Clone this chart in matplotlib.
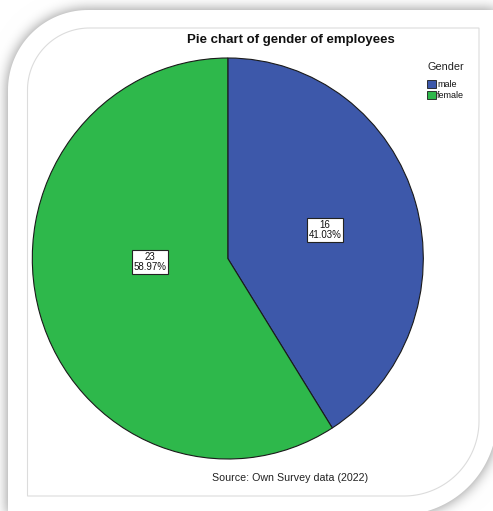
import numpy as np
import matplotlib
matplotlib.use("Agg")
import matplotlib.pyplot as plt
from matplotlib.path import Path
from matplotlib.patches import PathPatch, Rectangle

# --- data ---
categories = ["male", "female"]
counts = [16, 23]
percent_labels = ["41.03%", "58.97%"]
legend_title = "Gender"
title = "Pie chart of gender of employees"
source_note = "Source: Own Survey data (2022)"

colors = ["#3d58aa", "#2eb84b"]

plt.rcParams["font.family"] = ["Liberation Sans", "DejaVu Sans"]

W, H = 493, 511
fig = plt.figure(figsize=(W / 100, H / 100), dpi=100)
fig.patch.set_facecolor("white")


def rounded_card(x0, y0, x1, y1, r_tl, r_br, n=40):
    """Closed outline of a rectangle with rounded top-left and bottom-right corners
    (pixel coordinates, y growing downward)."""
    pts = []
    t = np.linspace(np.pi, 1.5 * np.pi, n)
    pts += list(zip(x0 + r_tl + r_tl * np.cos(t), y0 + r_tl + r_tl * np.sin(t)))
    pts.append((x1, y0))
    t = np.linspace(0, 0.5 * np.pi, n)
    pts += list(zip(x1 - r_br + r_br * np.cos(t), y1 - r_br + r_br * np.sin(t)))
    pts.append((x0, y1))
    pts.append(pts[0])
    codes = [Path.MOVETO] + [Path.LINETO] * (len(pts) - 2) + [Path.CLOSEPOLY]
    return Path(pts, codes)


def card_mask(xx, yy, x0, y0, x1, y1, r_tl, r_br):
    m = (xx >= x0) & (xx <= x1) & (yy >= y0) & (yy <= y1)
    c = (xx < x0 + r_tl) & (yy < y0 + r_tl)
    m &= ~(c & ((xx - (x0 + r_tl)) ** 2 + (yy - (y0 + r_tl)) ** 2 > r_tl ** 2))
    c = (xx > x1 - r_br) & (yy > y1 - r_br)
    m &= ~(c & ((xx - (x1 - r_br)) ** 2 + (yy - (y1 - r_br)) ** 2 > r_br ** 2))
    return m.astype(float)


def box_blur(a, r, axis):
    pad = [(0, 0), (0, 0)]
    pad[axis] = (r + 1, r)
    c = np.cumsum(np.pad(a, pad, mode="edge"), axis=axis)
    n = a.shape[axis]
    hi = np.take(c, np.arange(2 * r + 1, 2 * r + 1 + n), axis=axis)
    lo = np.take(c, np.arange(0, n), axis=axis)
    return (hi - lo) / (2 * r + 1)


# --- backdrop: soft shadow around a white card ---
card = (8, 10, 497, 515, 80, 97)
P = 40
ys, xs = np.mgrid[-P:H + P, -P:W + P] + 0.5
mask = card_mask(xs, ys, *card)
blur = mask
for _ in range(3):
    blur = box_blur(blur, 6, 0)
    blur = box_blur(blur, 6, 1)
blur = blur[P:P + H, P:P + W]
shade = 1.0 - 0.45 * blur
img = np.dstack([shade] * 3)

deco = fig.add_axes([0, 0, 1, 1], zorder=0)
deco.imshow(img, extent=(0, W, H, 0), interpolation="bilinear")
deco.add_patch(PathPatch(rounded_card(*card), facecolor="white", edgecolor="none"))
deco.add_patch(PathPatch(rounded_card(27.5, 28, 479, 496, 62, 75),
                         facecolor="none", edgecolor="#dcdcdc", linewidth=0.8))
deco.set_xlim(0, W)
deco.set_ylim(H, 0)
deco.axis("off")

# --- pie ---
left, right, top, bottom = 32.3, 423.3, 58, 459
ax = fig.add_axes([left / W, 1 - bottom / H, (right - left) / W, (bottom - top) / H], zorder=1)
ax.patch.set_alpha(0)
wedges, _ = ax.pie(counts, colors=colors, startangle=90, counterclock=False,
                   wedgeprops=dict(edgecolor="#1a1a1a", linewidth=0.8))
ax.set_aspect("auto")
ax.set_xlim(-1, 1)
ax.set_ylim(-1, 1)
ax.axis("off")

# value boxes inside each slice
label_pos = [(0.497, 0.142), (-0.398, -0.017)]
for (lx, ly), n, pct in zip(label_pos, counts, percent_labels):
    ax.text(lx, ly, f"{n}\n{pct}", ha="center", va="center", fontsize=7,
            linespacing=1.0, color="#111111",
            bbox=dict(boxstyle="square,pad=0.2", facecolor="white",
                      edgecolor="#222222", linewidth=0.8))

fig.text(290.5 / W, 1 - 40 / H, title, ha="center", va="center",
         fontsize=9.5, fontweight="bold", color="#111111")

# legend: title plus one swatch per category (drawn in the pixel-space overlay)
leg = fig.add_axes([0, 0, 1, 1], zorder=2)
leg.set_xlim(0, W)
leg.set_ylim(H, 0)
leg.axis("off")
leg.text(445.5, 67, legend_title, ha="center", va="center", fontsize=7.8, color="#222222")
for i, (cat, col) in enumerate(zip(categories, colors)):
    yc = 84.5 + 11 * i
    leg.add_patch(Rectangle((427, yc - 4), 8.5, 8, facecolor=col,
                            edgecolor="#1a1a1a", linewidth=0.6))
    leg.text(437, yc, cat, ha="left", va="center", fontsize=6.5, color="#111111")

fig.text(290.3 / W, 1 - 478 / H, source_note, ha="center", va="center",
         fontsize=7.7, color="#222222")

fig.savefig("out.png", dpi=100)
